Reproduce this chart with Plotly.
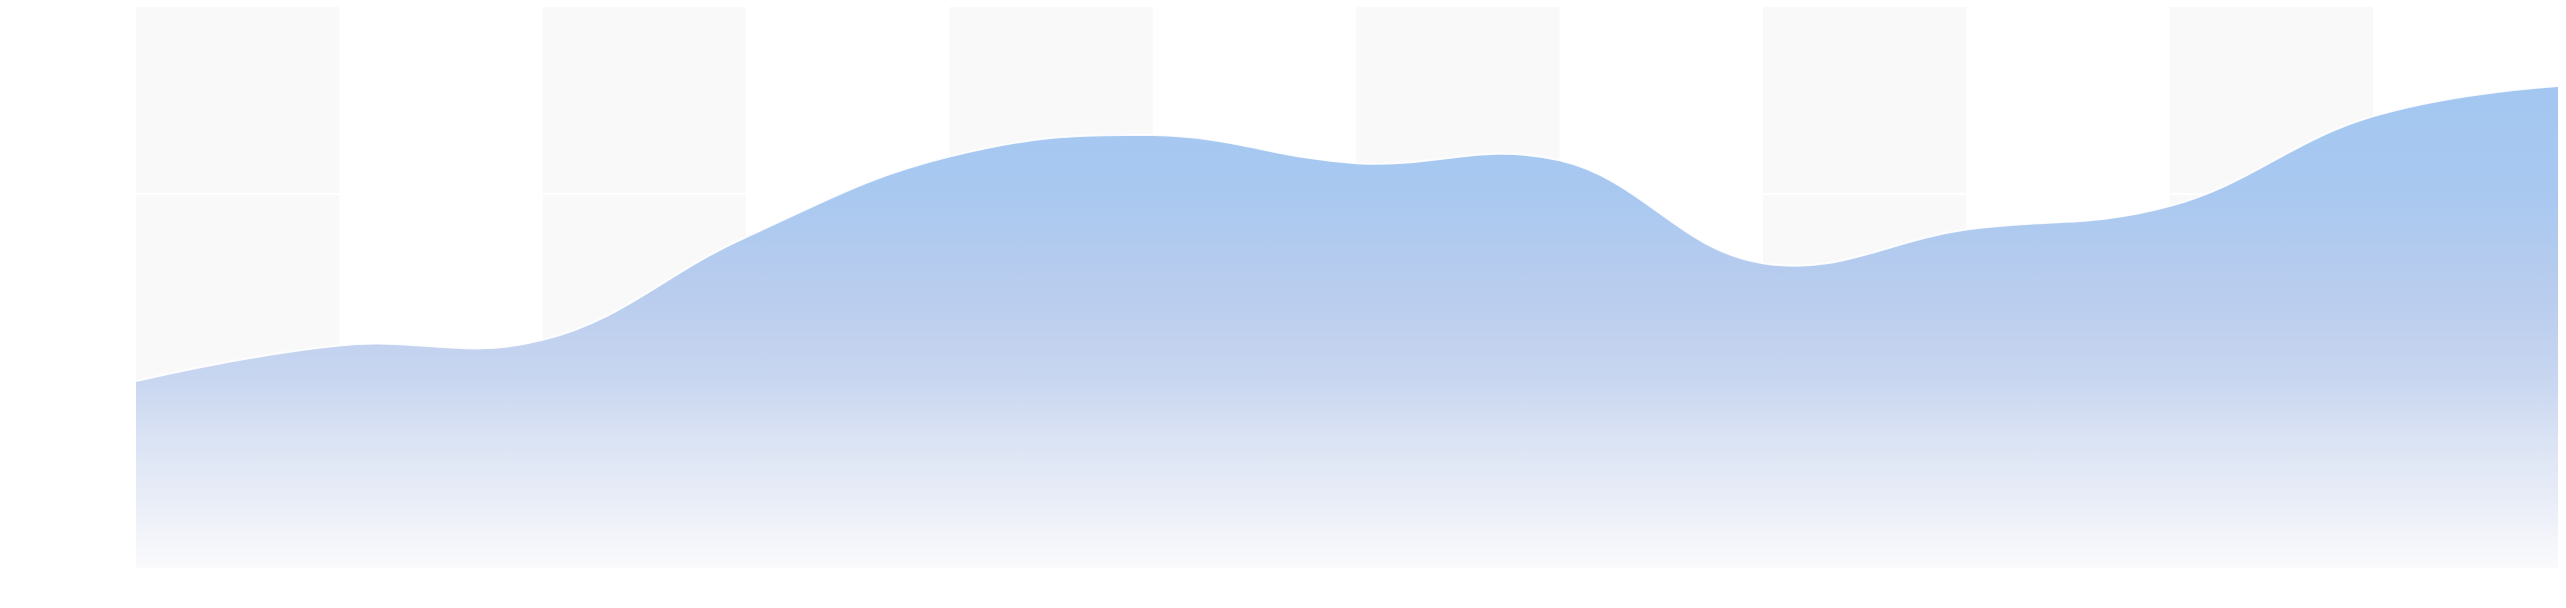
import plotly.graph_objects as go

# one point per split boundary, 13 points across 12 columns
points = list(range(13))
values = [1000, 1190, 1220, 1770, 2200, 2315, 2165, 2180, 1630, 1810, 1935, 2415, 2585]
shaded_columns = [0, 2, 4, 6, 8, 10]
y_ticks = [1000, 2000, 3000]

# vertical gradient of the area, bottom (0) to top (1)
fill_scale = [
    [0.0, 'rgb(250,250,252)'],
    [0.06, 'rgb(243,245,250)'],
    [0.14, 'rgb(233,237,247)'],
    [0.27, 'rgb(218,227,244)'],
    [0.39, 'rgb(200,214,240)'],
    [0.56, 'rgb(186,205,238)'],
    [0.79, 'rgb(168,200,240)'],
    [1.0, 'rgb(163,199,241)'],
]

fig = go.Figure()

fig.add_trace(go.Scatter(
    x=points, y=values,
    mode='lines',
    line=dict(shape='spline', smoothing=1.2, color='rgba(255,255,255,0.9)', width=2),
    fill='tozeroy',
    fillgradient=dict(type='vertical', colorscale=fill_scale, start=0, stop=max(values)),
    hoverinfo='skip',
    showlegend=False
))

# alternating split areas behind the grid
for col in shaded_columns:
    fig.add_shape(
        type='rect', xref='x', yref='paper',
        x0=col, x1=col + 1, y0=0, y1=1,
        fillcolor='#f9f9f9', line=dict(width=0),
        layer='below'
    )

fig.update_layout(
    width=2566, height=608,
    margin=dict(l=136, r=8, t=7, b=40),
    paper_bgcolor='white',
    plot_bgcolor='white',
    xaxis=dict(range=[0, 11.91], showgrid=False, zeroline=False,
               showticklabels=False, showline=False),
    yaxis=dict(range=[0, 3000], tickvals=y_ticks, showgrid=True,
               gridcolor='white', gridwidth=2, zeroline=False,
               showticklabels=False, showline=False),
)

# drop the browser's default body margin so the chart sits at the page corner
fig.write_html("out.html", config={'displayModeBar': False},
               post_script="document.body.style.margin='0';")
